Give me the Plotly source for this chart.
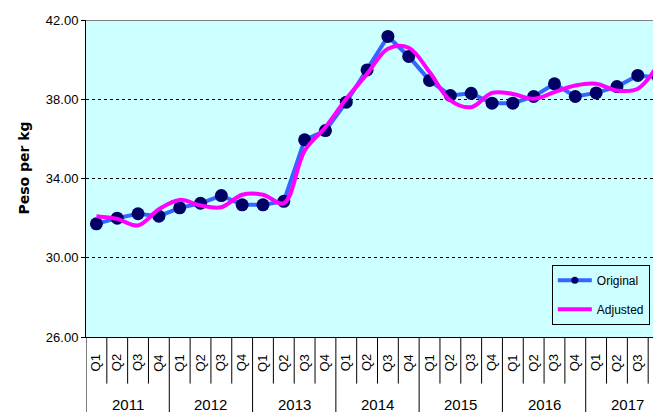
import plotly.graph_objects as go

years = ["2011", "2012", "2013", "2014", "2015", "2016", "2017"]
quarters = ["Q1", "Q2", "Q3", "Q4"]
original = [31.71, 32.00, 32.22, 32.10, 32.52, 32.75, 33.14, 32.67, 32.67, 32.85,
            35.95, 36.42, 37.85, 39.48, 41.17, 40.16, 38.95, 38.19, 38.30, 37.80,
            37.80, 38.14, 38.78, 38.14, 38.32, 38.64, 39.20, 39.10]
adjusted = [32.10, 31.96, 31.63, 32.45, 32.92, 32.64, 32.55, 33.18, 33.18, 32.75,
            35.40, 36.59, 38.02, 39.28, 40.55, 40.60, 39.37, 37.94, 37.60, 38.32,
            38.27, 38.02, 38.36, 38.69, 38.78, 38.44, 38.53, 39.79]
y_ticks = [26, 30, 34, 38, 42]

labels = [(y, q) for y in years for q in quarters]
xs = list(range(len(labels)))

FONT = "Liberation Sans Narrow, Arial Narrow, Liberation Sans, Arial"
BLUE = "#3366FF"
NAVY = "#000066"
MAG = "#FF00FF"

fig = go.Figure()
fig.add_trace(go.Scatter(
    x=xs, y=original, name="Original", mode="lines+markers", showlegend=False,
    line=dict(color=BLUE, width=4),
    marker=dict(color=NAVY, size=13, symbol="circle"),
))
fig.add_trace(go.Scatter(
    x=xs, y=adjusted, name="Adjusted", mode="lines", showlegend=False,
    line=dict(color=MAG, width=4, shape="spline", smoothing=1.0),
))
# legend entries (legend-only, smaller marker as in the reference)
fig.add_trace(go.Scatter(
    x=[None], y=[None], name="Original", mode="lines+markers", legendgroup="a",
    line=dict(color=BLUE, width=4), marker=dict(color=NAVY, size=7),
))
fig.add_trace(go.Scatter(
    x=[None], y=[None], name="Adjusted", mode="lines", legendgroup="b",
    line=dict(color=MAG, width=4),
))

shapes = []
annotations = []
n = len(xs)
for i in range(n + 1):
    b = i - 0.5
    is_year = (i % 4 == 0)
    shapes.append(dict(type="line", xref="x", yref="paper", x0=b, x1=b,
                       y0=0, y1=-0.26 if is_year else -0.147,
                       line=dict(color="black", width=1)))
for i, (yr, q) in enumerate(labels):
    annotations.append(dict(x=i, y=-0.082, xref="x", yref="paper", text=q,
                            textangle=-90, showarrow=False,
                            font=dict(family=FONT, size=13, color="black"),
                            xanchor="center", yanchor="middle"))
for k, yr in enumerate(years):
    annotations.append(dict(x=4 * k + 1.5, y=-0.212, xref="x", yref="paper",
                            text=yr, showarrow=False,
                            font=dict(family=FONT, size=15, color="black"),
                            xanchor="center", yanchor="middle"))
shapes.append(dict(type="line", xref="paper", yref="y", x0=0, x1=1, y0=42, y1=42,
                   line=dict(color="#808080", width=2)))
annotations.append(dict(x=-0.1226, y=0.533, xref="paper", yref="paper",
                        text="<b>Peso per kg</b>", textangle=-90, showarrow=False,
                        font=dict(family="DejaVu Sans, Liberation Sans, Arial",
                                  size=14, color="black")))

fig.update_layout(
    width=661, height=412,
    margin=dict(l=78, r=0, t=12, b=83),
    paper_bgcolor="white", plot_bgcolor="#CCFFFF",
    showlegend=True,
    legend=dict(x=0.799, y=0.228, xanchor="left", yanchor="top",
                bgcolor="#CCFFFF", bordercolor="black", borderwidth=1,
                font=dict(family=FONT, size=12, color="black"),
                tracegroupgap=10, itemwidth=34),
    xaxis=dict(range=[-0.5, 27.5], showticklabels=False, showgrid=False,
               zeroline=False, showline=True, linecolor="black", linewidth=1,
               ticks=""),
    yaxis=dict(range=[26, 42], tickvals=y_ticks,
               ticktext=[f"{v:.2f}" for v in y_ticks],
               showgrid=True, gridcolor="black", griddash="dot", gridwidth=1,
               zeroline=False, showline=True, linecolor="black", linewidth=1,
               ticks="outside", ticklen=4, tickcolor="black",
               tickfont=dict(family=FONT, size=13, color="black")),
    shapes=shapes, annotations=annotations,
)

fig.write_html("out.html")
